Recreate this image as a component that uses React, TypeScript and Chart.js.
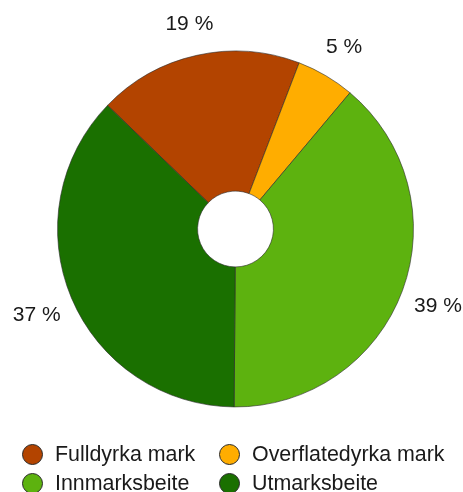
import React, { useEffect, useRef } from "react";
import { Chart, registerables } from "chart.js";

Chart.register(...registerables);

const categories = ["Fulldyrka mark", "Overflatedyrka mark", "Innmarksbeite", "Utmarksbeite"];
const shares = [18.6, 5.3, 39.0, 37.1];
const colors = ["#b34400", "#ffad00", "#5db20f", "#1a7000"];

const labelPlugin = {
  id: "outerLabels",
  afterDatasetsDraw(chart: any) {
    const ctx = chart.ctx;
    const meta = chart.getDatasetMeta(0);
    ctx.save();
    ctx.font = "21px 'Liberation Sans', Arial, sans-serif";
    ctx.fillStyle = "#1a1a1a";
    ctx.textAlign = "center";
    ctx.textBaseline = "middle";
    meta.data.forEach((arc: any, i: number) => {
      const { x, y, startAngle, endAngle, outerRadius } = arc.getProps(
        ["x", "y", "startAngle", "endAngle", "outerRadius"],
        true
      );
      const mid = (startAngle + endAngle) / 2;
      const text = Math.round(shares[i]) + " %";
      const r = outerRadius + 34 + 4 * Math.abs(Math.cos(mid));
      ctx.fillText(text, x + Math.cos(mid) * r, y + Math.sin(mid) * r + 3);
    });
    ctx.restore();
  },
};

export default function App() {
  const canvasRef = useRef<HTMLCanvasElement | null>(null);

  useEffect(() => {
    document.body.style.margin = "0";
    const chart = new Chart(canvasRef.current as HTMLCanvasElement, {
      type: "doughnut",
      data: {
        labels: categories,
        datasets: [
          {
            data: shares,
            backgroundColor: colors,
            borderColor: "#2a2a2a",
            borderWidth: 0.6,
          },
        ],
      },
      options: {
        animation: false,
        responsive: false,
        rotation: -46,
        cutout: "21.3%",
        layout: { padding: { left: 57.25, right: 49.25, top: 50.75, bottom: 84.75 } },
        plugins: { legend: { display: false }, tooltip: { enabled: false } },
      } as any,
      plugins: [labelPlugin],
    });
    return () => chart.destroy();
  }, []);

  const legendFont: React.CSSProperties = {
    position: "absolute",
    fontFamily: "'Liberation Sans', Arial, sans-serif",
    fontSize: 21.4,
    color: "#1a1a1a",
    lineHeight: "22px",
    whiteSpace: "nowrap",
  };
  const pos = [
    { mx: 22, tx: 55, y: 454 },
    { mx: 219, tx: 252, y: 454 },
    { mx: 22, tx: 55, y: 483 },
    { mx: 219, tx: 252, y: 483 },
  ];

  return (
    <div style={{ position: "relative", width: 463, height: 492, background: "#fff" }}>
      <canvas ref={canvasRef} width={463} height={492} style={{ position: "absolute", left: 0, top: 0 }} />
      {categories.map((c, i) => (
        <React.Fragment key={c}>
          <div
            style={{
              position: "absolute",
              left: pos[i].mx,
              top: pos[i].y - 10,
              width: 19,
              height: 19,
              borderRadius: "50%",
              background: colors[i],
              border: "0.6px solid #2a2a2a",
            }}
          />
          <div style={{ ...legendFont, left: pos[i].tx, top: pos[i].y - 11 }}>{c}</div>
        </React.Fragment>
      ))}
    </div>
  );
}
